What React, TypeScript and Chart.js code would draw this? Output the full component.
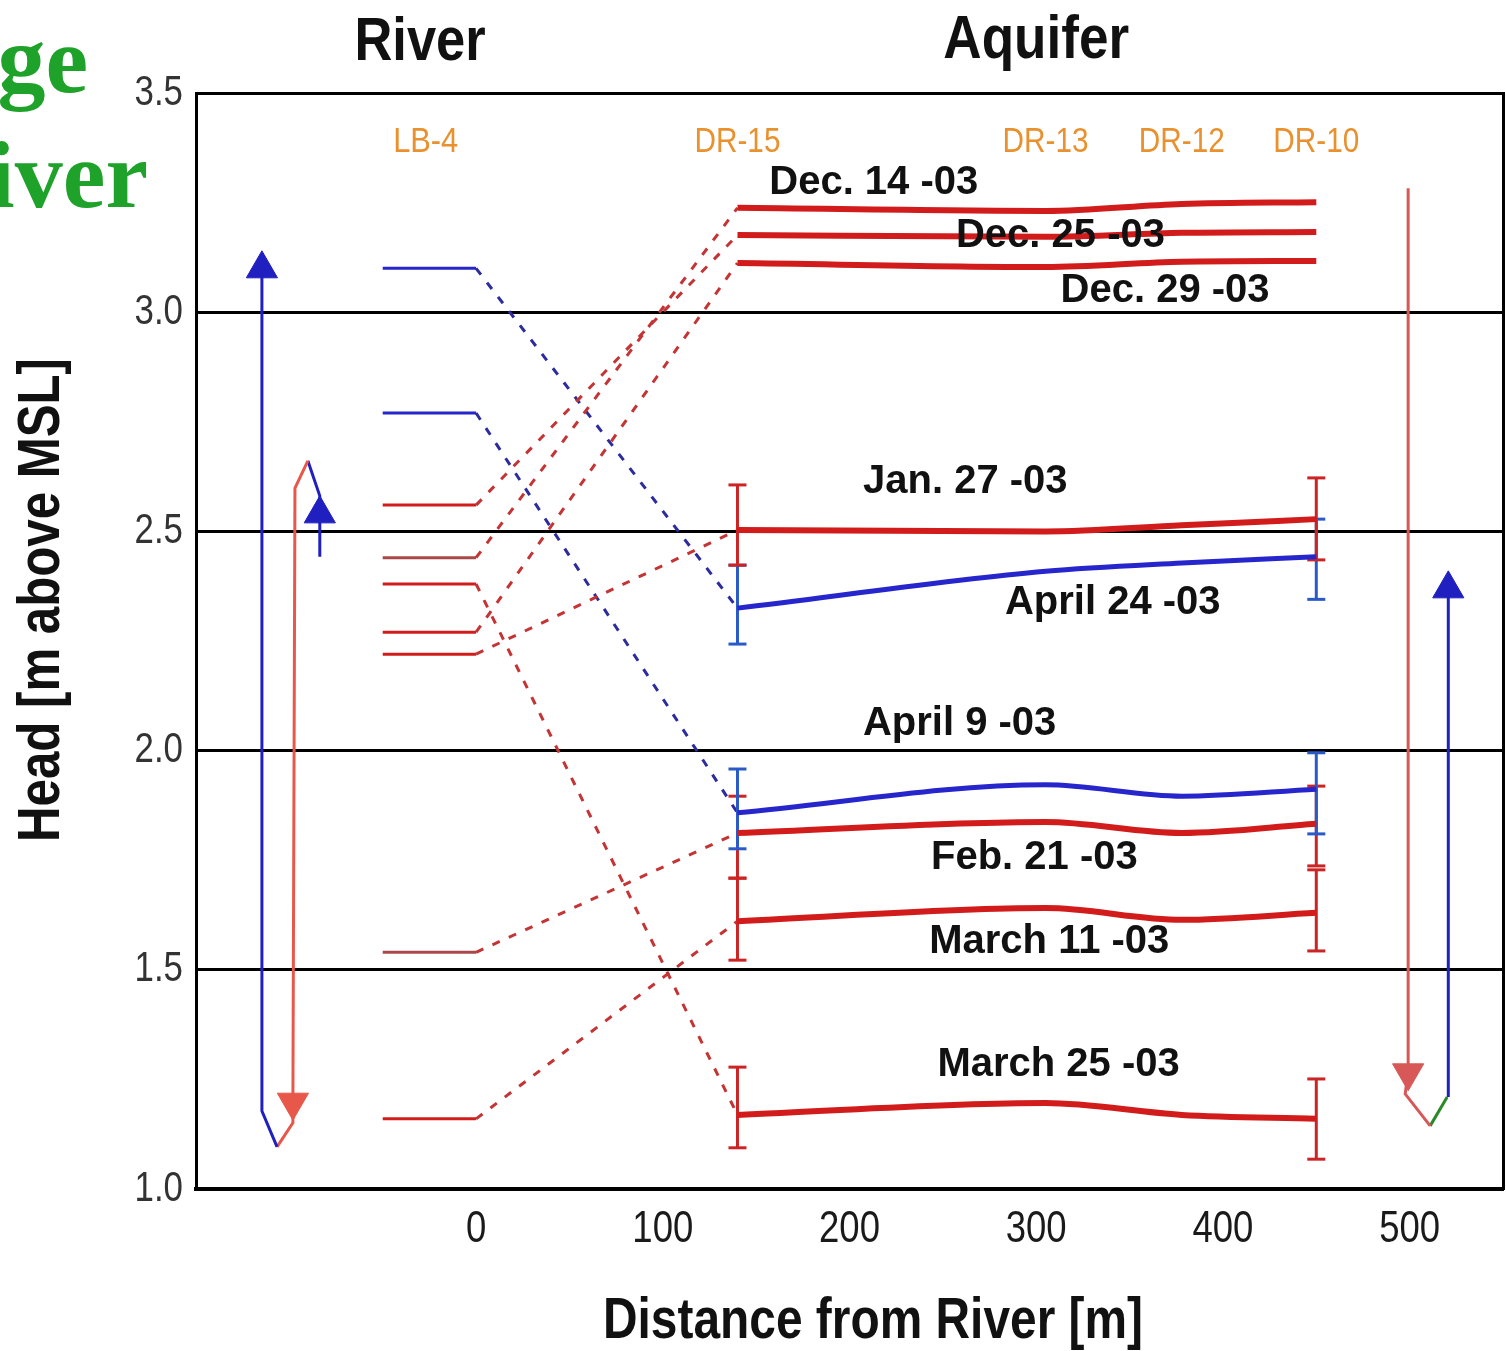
import { useEffect, useRef } from "react";
import { Chart, registerables } from "chart.js";

Chart.register(...registerables);

const SANS = '"Liberation Sans", Arial, sans-serif';
const SERIF = '"Liberation Serif", "Times New Roman", serif';

// Horizontal squeeze applied to the narrow lettering
const SQUEEZE = 0.83;

// Observation wells along the transect, distance from the river bank (m)
const wellNames = ["DR-15", "DR-13", "DR-12", "DR-10"];
const wellDistance = [140, 305, 378, 450];
const gaugeName = "LB-4";
const gaugeDistance = -27;

// River gauge segment is drawn over this stretch of the bank
const riverBankFrom = -50;
const riverBankTo = 0;

// Axis ticks
const distanceTicks = [0, 100, 200, 300, 400, 500];
const headTicks = [1.0, 1.5, 2.0, 2.5, 3.0, 3.5];

// Survey dates
const surveyDates = [
  "Dec. 14 -03",
  "Dec. 25 -03",
  "Dec. 29 -03",
  "Jan. 27 -03",
  "April 24 -03",
  "April 9 -03",
  "Feb. 21 -03",
  "March 11 -03",
  "March 25 -03",
];

// River stage at LB-4 for each survey (m above MSL)
const riverStage = [2.44, 2.56, 2.27, 2.22, 3.1, 2.77, 1.54, 1.16, 2.38];

// Aquifer head at DR-15, DR-13, DR-12, DR-10 (m above MSL)
const headDec14 = [3.238, 3.231, 3.247, 3.251];
const headDec25 = [3.176, 3.172, 3.181, 3.183];
const headDec29 = [3.112, 3.103, 3.115, 3.117];
const headJan27 = [2.503, 2.5, 2.514, 2.528];
const headApr24 = [2.325, 2.409, 2.428, 2.442];
const headApr9 = [1.858, 1.922, 1.896, 1.912];
const headFeb21 = [1.812, 1.837, 1.812, 1.833];
const headMar11 = [1.611, 1.641, 1.614, 1.63];
const headMar25 = [1.169, 1.196, 1.169, 1.16];

// Measurement uncertainty at DR-15 and DR-10
const errSeries = ["Jan. 27 -03", "April 24 -03", "April 9 -03", "Feb. 21 -03", "March 11 -03", "March 25 -03"];
const errLowDR15 = [2.423, 2.243, 1.776, 1.709, 1.522, 1.094];
const errHighDR15 = [2.606, 2.423, 1.958, 1.896, 1.709, 1.278];
const errLowDR10 = [2.435, 2.345, 1.81, 1.737, 1.543, 1.068];
const errHighDR10 = [2.622, 2.528, 1.995, 1.919, 1.728, 1.251];

// Rise / fall loops: river side (left) and aquifer side (right)
const riverRiseX = [-106.6, -114.7, -114.7];
const riverRiseY = [1.096, 1.178, 3.099];
const riverFallX = [-90.1, -97.0, -98.1, -98.1, -106.6];
const riverFallY = [2.661, 2.599, 1.198, 1.151, 1.096];
const riverRise2X = [-90.1, -83.7, -83.7, -83.7];
const riverRise2Y = [2.661, 2.581, 2.54, 2.442];
const aquiferFallX = [499.2, 499.2, 497.6, 511.0];
const aquiferFallY = [3.283, 1.265, 1.217, 1.144];
const aquiferTurnX = [511.0, 520.1];
const aquiferTurnY = [1.144, 1.21];
const aquiferRiseX = [520.7, 520.7];
const aquiferRiseY = [1.21, 2.369];

// Where the date captions sit, in axis units
const captionX = [213, 313, 369, 262, 341, 259, 299, 307, 312];
const captionY = [3.295, 3.174, 3.048, 2.613, 2.337, 2.061, 1.755, 1.563, 1.283];

const RED = "#d21c1c";
const BLUE = "#2626cc";
const RED_DASH = "#c43434";
const BLUE_DASH = "#2c2c9e";
const RED_ERR = "#cc2424";
const BLUE_ERR = "#2a5ac8";
const BROWN = "#a84848";
const ORANGE = "#e8912e";

const profiles = [headDec14, headDec25, headDec29, headJan27, headApr24, headApr9, headFeb21, headMar11, headMar25];
const isSpring = (name: string) => name.startsWith("April");

const pts = (xs: number[], ys: number[]) => xs.map((x, i) => ({ x, y: ys[i] }));

function buildDatasets() {
  const ds: any[] = [];

  // Aquifer head profiles
  surveyDates.forEach((name, i) => {
    ds.push({
      label: name,
      data: pts(wellDistance, profiles[i]),
      borderColor: isSpring(name) ? BLUE : RED,
      borderWidth: isSpring(name) ? 5 : 6,
      pointRadius: 0,
      cubicInterpolationMode: "monotone",
    });
  });

  // Error bars at the first and last well
  errSeries.forEach((name, i) => {
    const color = isSpring(name) ? BLUE_ERR : RED_ERR;
    const bars: [number, number, number][] = [
      [wellDistance[0], errLowDR15[i], errHighDR15[i]],
      [wellDistance[wellDistance.length - 1], errLowDR10[i], errHighDR10[i]],
    ];
    bars.forEach(([x, lo, hi]) => {
      ds.push({
        label: name + " error",
        data: [
          { x, y: lo },
          { x, y: hi },
        ],
        borderColor: color,
        borderWidth: 3,
        pointStyle: "line",
        pointRadius: 9,
        pointBorderWidth: 3,
        pointBorderColor: color,
      });
    });
  });

  // Dashed links from river stage to head at the first well
  surveyDates.forEach((name, i) => {
    ds.push({
      label: name + " link",
      data: [
        { x: riverBankTo, y: riverStage[i] },
        { x: wellDistance[0], y: profiles[i][0] },
      ],
      borderColor: isSpring(name) ? BLUE_DASH : RED_DASH,
      borderWidth: 3,
      borderDash: [8, 10],
      pointRadius: 0,
    });
  });

  // River stage segments
  surveyDates.forEach((name, i) => {
    const brownish = name === "Dec. 14 -03" || name === "Feb. 21 -03";
    ds.push({
      label: name + " river",
      data: [
        { x: riverBankFrom, y: riverStage[i] },
        { x: riverBankTo, y: riverStage[i] },
      ],
      borderColor: isSpring(name) ? BLUE : brownish ? BROWN : RED,
      borderWidth: 3,
      pointRadius: 0,
    });
  });

  // Rise / fall arrows
  const arrow = (label: string, xs: number[], ys: number[], color: string, head: number, rot: number) => ({
    label,
    data: pts(xs, ys),
    borderColor: color,
    borderWidth: 3,
    pointStyle: "triangle",
    pointRadius: xs.map((_, i) => (i === head ? 18 : 0)),
    pointBackgroundColor: color,
    pointBorderColor: color,
    pointBorderWidth: 1,
    pointRotation: rot,
  });
  ds.push(arrow("river rise", riverRiseX, riverRiseY, "#2020c0", 2, 0));
  ds.push(arrow("river fall", riverFallX, riverFallY, "#e8584a", 2, 180));
  ds.push(arrow("river rise 2", riverRise2X, riverRise2Y, "#2020c0", 2, 0));
  ds.push(arrow("aquifer fall", aquiferFallX, aquiferFallY, "#d85858", 1, 180));
  ds.push(arrow("aquifer turn", aquiferTurnX, aquiferTurnY, "#2a8a2a", -1, 0));
  ds.push(arrow("aquifer rise", aquiferRiseX, aquiferRiseY, "#2020c0", 1, 0));

  return ds;
}

// Tick labels use a condensed face: squeeze each label about its anchor
const condensedTicks = {
  id: "condensedTicks",
  beforeDraw(chart: any) {
    const ctx = chart.ctx;
    const proto = CanvasRenderingContext2D.prototype.fillText;
    ctx.fillText = function (text: string, x: number, y: number, maxWidth?: number) {
      this.save();
      this.scale(SQUEEZE, 1);
      if (maxWidth === undefined) proto.call(this, text, x / SQUEEZE, y);
      else proto.call(this, text, x / SQUEEZE, y, maxWidth / SQUEEZE);
      this.restore();
    };
  },
  beforeDatasetsDraw(chart: any) {
    delete chart.ctx.fillText;
  },
};

function squeezedText(ctx: CanvasRenderingContext2D, text: string, x: number, y: number, sx: number) {
  ctx.save();
  ctx.translate(x, y);
  ctx.scale(sx, 1);
  ctx.fillText(text, 0, 0);
  ctx.restore();
}

const textPlugin = {
  id: "headTexts",
  afterDatasetsDraw(chart: any) {
    const { ctx } = chart;
    const xs = chart.scales.x;
    const ys = chart.scales.y;
    ctx.save();

    // Green slide heading fragments
    ctx.fillStyle = "#1fa22a";
    ctx.font = `bold 96px ${SERIF}`;
    ctx.textAlign = "right";
    ctx.textBaseline = "alphabetic";
    ctx.fillText("ge", 88, 92);
    ctx.fillText("iver", 148, 207);

    // Section headings
    ctx.fillStyle = "#111";
    ctx.font = `bold 61px ${SANS}`;
    ctx.textAlign = "center";
    squeezedText(ctx, "River", xs.getPixelForValue(-30), 60, 0.86);
    squeezedText(ctx, "Aquifer", xs.getPixelForValue(300), 58, 0.87);

    // Well labels
    ctx.fillStyle = ORANGE;
    ctx.font = `35px ${SANS}`;
    ctx.textBaseline = "middle";
    const wy = ys.getPixelForValue(3.388);
    squeezedText(ctx, gaugeName, xs.getPixelForValue(gaugeDistance), wy, 0.88);
    wellNames.forEach((w, i) => squeezedText(ctx, w, xs.getPixelForValue(wellDistance[i]), wy, 0.85));

    // Date captions
    ctx.fillStyle = "#111";
    ctx.font = `bold 40px ${SANS}`;
    surveyDates.forEach((d, i) => {
      ctx.fillText(d, xs.getPixelForValue(captionX[i]), ys.getPixelForValue(captionY[i]));
    });

    // Axis titles
    ctx.font = `bold 57px ${SANS}`;
    squeezedText(ctx, "Distance from River [m]", 873, 1322, 0.84);
    ctx.translate(42, 600);
    ctx.rotate(-Math.PI / 2);
    ctx.font = `bold 60px ${SANS}`;
    squeezedText(ctx, "Head [m above MSL]", 0, 0, 0.82);

    ctx.restore();
  },
};

export default function App() {
  const ref = useRef<HTMLCanvasElement>(null);

  useEffect(() => {
    const chart = new Chart(ref.current as HTMLCanvasElement, {
      type: "line",
      data: { datasets: buildDatasets() },
      options: {
        animation: false,
        responsive: false,
        events: [],
        layout: { autoPadding: false, padding: { left: 0, right: 0, top: 93, bottom: 0 } },
        plugins: { legend: { display: false }, tooltip: { enabled: false } },
        scales: {
          x: {
            type: "linear",
            min: -150,
            max: 550,
            afterBuildTicks: (axis: any) => {
              axis.ticks = distanceTicks.map((value) => ({ value }));
            },
            afterFit: (s: any) => {
              s.height = 162;
            },
            grid: { display: false, drawTicks: false },
            border: { display: true, color: "#000", width: 4 },
            ticks: {
              padding: 0,
              color: "#1a1a1a",
              font: { family: SANS, size: 44, lineHeight: 1.85 },
              callback: (v: any) => String(v),
            },
          },
          y: {
            type: "linear",
            min: 1,
            max: 3.5,
            afterBuildTicks: (axis: any) => {
              axis.ticks = headTicks.map((value) => ({ value }));
            },
            afterFit: (s: any) => {
              s.width = 196;
            },
            grid: { color: "#000", lineWidth: 3, drawTicks: false },
            border: { display: true, color: "#000", width: 3 },
            ticks: {
              padding: 13,
              color: "#333",
              font: { family: SANS, size: 42 },
              callback: (v: any) => Number(v).toFixed(1),
            },
          },
          yRight: {
            type: "linear",
            position: "right",
            min: 1,
            max: 3.5,
            afterFit: (s: any) => {
              s.width = 3;
            },
            grid: { display: false, drawTicks: false },
            ticks: { display: false },
            border: { display: true, color: "#000", width: 3 },
          },
        },
      } as any,
      plugins: [condensedTicks, textPlugin],
    });
    return () => chart.destroy();
  }, []);

  return (
    <div style={{ position: "absolute", left: 0, top: 0, width: 1506, height: 1351, background: "#fff" }}>
      <canvas ref={ref} width={1506} height={1351} style={{ display: "block" }} />
    </div>
  );
}
